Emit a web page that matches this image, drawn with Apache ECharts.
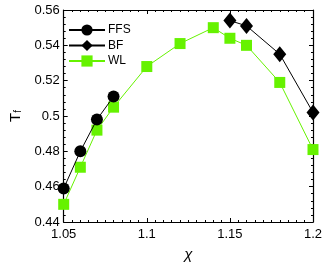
<!DOCTYPE html>
<html><head><meta charset="utf-8">
<script src="https://cdn.jsdelivr.net/npm/echarts@6/dist/echarts.min.js"></script>
<style>html,body{margin:0;padding:0;background:#fff}#c{width:329px;height:267px}</style>
</head><body><div id="c"></div>
<script>
const ffsX = [1.05, 1.06, 1.07, 1.08];
const ffsY = [0.459, 0.480, 0.498, 0.511];
const bfX = [1.15, 1.16, 1.18, 1.2];
const bfY = [0.554, 0.551, 0.535, 0.502];
const wlX = [1.05, 1.06, 1.07, 1.08, 1.10, 1.12, 1.14, 1.15, 1.16, 1.18, 1.2];
const wlY = [0.450, 0.471, 0.492, 0.505, 0.528, 0.541, 0.550, 0.544, 0.540, 0.519, 0.481];
const xTicks = [1.05, 1.1, 1.15, 1.2];
const yTicks = [0.44, 0.46, 0.48, 0.5, 0.52, 0.54, 0.56];

const pair = (xs, ys) => xs.map((x, i) => [x, ys[i]]);
const green = '#66f200';
const font = 'Liberation Sans, Arial, sans-serif';
const tickStyle = {show: true, inside: true, length: 4, lineStyle: {color: '#000', width: 1}};
const minorStyle = {show: true, length: 2, lineStyle: {color: '#000', width: 1}};
const axisLine = {show: true, onZero: false, lineStyle: {color: '#000', width: 1.2}};
const baseX = {type: 'value', min: xTicks[0], max: xTicks[xTicks.length-1], interval: 0.05,
  axisLine, axisTick: tickStyle, splitLine: {show: false}};
const baseY = {type: 'value', min: yTicks[0], max: yTicks[yTicks.length-1], interval: 0.02,
  axisLine, axisTick: tickStyle, splitLine: {show: false}};

const chart = echarts.init(document.getElementById('c'), null, {renderer: 'canvas'});
chart.setOption({
  animation: false,
  grid: {left: 53, right: 16, top: 10, bottom: 36},
  legend: {
    orient: 'vertical', left: 63, top: 19, itemWidth: 36, itemHeight: 14, itemGap: 3.5,
    textStyle: {fontFamily: font, fontSize: 12, color: '#000', padding: [0,0,0,-2]},
    data: ['FFS', 'BF', 'WL']
  },
  xAxis: [
    Object.assign({}, baseX, {position: 'bottom',
      minorTick: Object.assign({splitNumber: 10}, minorStyle),
      axisLabel: {color: '#000', fontFamily: font, fontSize: 13, margin: 6,
        formatter: v => String(+v.toFixed(2))},
      name: 'χ', nameLocation: 'middle', nameGap: 25,
      nameTextStyle: {fontFamily: font, fontSize: 15, color: '#000', fontStyle: 'italic'}}),
    Object.assign({}, baseX, {position: 'top',
      minorTick: Object.assign({splitNumber: 10}, minorStyle),
      axisLabel: {show: false}})
  ],
  yAxis: [
    Object.assign({}, baseY, {position: 'left',
      minorTick: Object.assign({splitNumber: 5}, minorStyle),
      axisLabel: {color: '#000', fontFamily: font, fontSize: 13, margin: 4,
        formatter: v => String(+v.toFixed(2))},
      name: 'T{s|f}', nameLocation: 'middle', nameGap: 34, nameRotate: 90,
      nameTextStyle: {fontFamily: font, fontSize: 15, color: '#000',
        rich: {s: {fontFamily: font, fontSize: 10, color: '#000', verticalAlign: 'bottom', padding: [6,0,0,0]}}}}),
    Object.assign({}, baseY, {position: 'right',
      minorTick: Object.assign({splitNumber: 5}, minorStyle),
      axisLabel: {show: false}})
  ],
  series: [
    {name: 'FFS', type: 'line', data: pair(ffsX, ffsY), symbol: 'circle', symbolSize: 12,
      lineStyle: {color: '#000', width: 1}, itemStyle: {color: '#000'}, z: 3},
    {name: 'BF', type: 'line', data: pair(bfX, bfY), symbol: 'diamond', symbolSize: [13, 16],
      lineStyle: {color: '#000', width: 1}, itemStyle: {color: '#000'}, z: 3},
    {name: 'WL', type: 'line', data: pair(wlX, wlY), symbol: 'rect', symbolSize: 11,
      lineStyle: {color: green, width: 1}, itemStyle: {color: green}, z: 2}
  ]
});
</script></body></html>
